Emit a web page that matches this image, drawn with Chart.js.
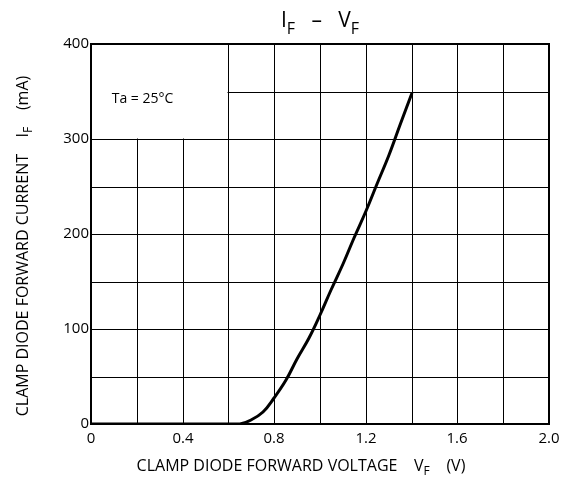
<!DOCTYPE html>
<html>
<head>
<meta charset="utf-8">
<script src="https://cdn.jsdelivr.net/npm/chart.js@4.4.1/dist/chart.umd.min.js"></script>
<style>
    html, body { margin: 0; padding: 0; background: #fff; }
    #wrap { width: 570px; height: 488px; }
</style>
</head>
<body>
<div id="wrap"><canvas id="ifvf"></canvas></div>
<script>
// forward voltage (V) and forward current (mA)
const voltage = [0, 0.2, 0.4, 0.6, 0.65, 0.7, 0.75, 0.8, 0.85, 0.9, 0.95, 1.0, 1.05, 1.1, 1.15, 1.2, 1.25, 1.3, 1.35, 1.4];
const current = [0, 0, 0, 0, 0.5, 4, 13, 27, 46, 68, 91, 115, 141, 168, 196, 224, 253, 283, 315, 348];

const xLabels = ['0', '0.4', '0.8', '1.2', '1.6', '2.0'];
const yLabels = ['0', '100', '200', '300', '400'];

const FONT = '"Open Sans", "DejaVu Sans", sans-serif';

// draws text made of [string, isSubscript] pieces, centered on (x, y)
function drawParts(ctx, parts, x, y, size, rotate) {
    ctx.save();
    ctx.translate(x, y);
    if (rotate) ctx.rotate(-Math.PI / 2);
    ctx.fillStyle = '#000';
    ctx.textBaseline = 'alphabetic';
    ctx.textAlign = 'left';
    const subSize = Math.round(size * 0.75);
    let total = 0;
    parts.forEach(p => {
        ctx.font = (p[1] ? subSize : size) + 'px ' + FONT;
        total += ctx.measureText(p[0]).width;
    });
    let cx = -total / 2;
    parts.forEach(p => {
        ctx.font = (p[1] ? subSize : size) + 'px ' + FONT;
        ctx.fillText(p[0], cx, size * 0.35 + (p[1] ? size * 0.3 : 0));
        cx += ctx.measureText(p[0]).width;
    });
    ctx.restore();
}

const labelsPlugin = {
    id: 'labels',
    beforeDatasetsDraw(chart) {
        const ctx = chart.ctx;
        const xs = chart.scales.x, ys = chart.scales.y;
        const a = chart.chartArea;
        // blank box for the Ta label
        ctx.save();
        ctx.fillStyle = '#fff';
        const bx = xs.getPixelForValue(0), bx2 = xs.getPixelForValue(0.6);
        const by = ys.getPixelForValue(400), by2 = ys.getPixelForValue(300);
        ctx.fillRect(bx + 1, by + 1, bx2 - bx - 1.5, by2 - by - 1.5);
        // frame
        ctx.strokeStyle = '#000';
        ctx.lineWidth = 2;
        ctx.strokeRect(a.left, a.top, a.right - a.left, a.bottom - a.top);
        ctx.restore();

        ctx.save();
        ctx.fillStyle = '#000';
        ctx.font = '14px ' + FONT;
        ctx.textAlign = 'center';
        ctx.textBaseline = 'middle';
        ctx.fillText('Ta = 25°C', (bx + bx2) / 2 - 17, by + 55);
        ctx.restore();
    },
    afterDraw(chart) {
        const ctx = chart.ctx;
        drawParts(ctx, [['I', false], ['F', true], ['   –   ', false], ['V', false], ['F', true]], 320, 20, 21, false);
        drawParts(ctx, [['CLAMP DIODE FORWARD VOLTAGE    ', false], ['V', false], ['F', true], ['    (V)', false]], 301, 465, 16, false);
        drawParts(ctx, [['CLAMP DIODE FORWARD CURRENT    ', false], ['I', false], ['F', true], ['    (mA)', false]], 22, 246, 16, true);
    }
};

new Chart(document.getElementById('ifvf'), {
    type: 'line',
    data: {
        datasets: [{
            data: voltage.map((v, i) => ({ x: v, y: current[i] })),
            borderColor: '#000',
            borderWidth: 3,
            pointRadius: 0,
            tension: 0.4,
            fill: false
        }]
    },
    options: {
        responsive: true,
        maintainAspectRatio: false,
        animation: false,
        layout: { padding: { left: 40, right: 21, top: 44, bottom: 24 } },
        plugins: { legend: { display: false }, tooltip: { enabled: false } },
        scales: {
            x: {
                type: 'linear',
                min: 0, max: 2,
                alignToPixels: true,
                afterFit(scale) { scale.height = 40; },
                grid: { color: '#000', lineWidth: 1, drawTicks: false },
                border: { display: false },
                ticks: {
                    stepSize: 0.2,
                    padding: 6,
                    maxRotation: 0,
                    autoSkip: false,
                    color: '#000',
                    font: { family: FONT, size: 15 },
                    callback: (v, i) => (i % 2 === 0 ? xLabels[i / 2] : '')
                }
            },
            y: {
                min: 0, max: 400,
                alignToPixels: true,
                afterFit(scale) { scale.width = 51; },
                grid: { color: '#000', lineWidth: 1, drawTicks: false },
                border: { display: false },
                ticks: {
                    stepSize: 50,
                    padding: 2,
                    autoSkip: false,
                    color: '#000',
                    font: { family: FONT, size: 15 },
                    callback: (v, i) => (i % 2 === 0 ? yLabels[i / 2] : '')
                }
            }
        }
    },
    plugins: [labelsPlugin]
});
</script>
</body>
</html>
